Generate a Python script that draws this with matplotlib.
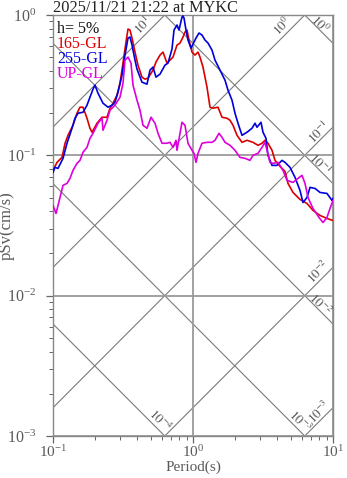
import numpy as np
import matplotlib
matplotlib.use('Agg')
import matplotlib.pyplot as plt
from matplotlib.ticker import LogLocator, LogFormatterSciNotation, NullFormatter

plt.rcParams['font.family'] = 'serif'
plt.rcParams['font.serif'] = ['Liberation Serif', 'DejaVu Serif']
plt.rcParams['mathtext.fontset'] = 'stix'

title = '2025/11/21 21:22 at MYKC'
damping = 'h= 5%'

# 165-GL
t_165 = [0.1, 0.1068, 0.1160, 0.1219, 0.1280, 0.1389, 0.1484, 0.1559, 0.1638, 0.1749,
         0.1837, 0.1900, 0.2062, 0.2239, 0.2430, 0.2553, 0.2638, 0.2865, 0.3010, 0.3162,
         0.3322, 0.3433, 0.3548, 0.3667, 0.3852, 0.4046, 0.4321, 0.4542, 0.4770, 0.5179,
         0.5441, 0.5811, 0.6105, 0.6520, 0.6851, 0.7197, 0.7686, 0.8076, 0.8483, 0.8766,
         0.9061, 0.9363, 0.9837, 1.0335, 1.0857, 1.122, 1.1788, 1.2589, 1.3226, 1.3895,
         1.5086, 1.6112, 1.7496, 1.8378, 1.9307, 2.0621, 2.2387, 2.4301, 2.6827, 2.9125,
         3.1110, 3.2679, 3.4327, 3.6669, 3.8523, 4.1824, 4.5409, 4.7705, 5.1795, 5.8114,
         6.5208, 7.1969, 8.0747, 9.0601, 10.0]
sv_165 = [0.0781, 0.0891, 0.0967, 0.1219, 0.1389, 0.1638, 0.1995, 0.2203, 0.2203, 0.1837,
          0.1559, 0.1460, 0.1693, 0.1868, 0.1868, 0.2166, 0.2276, 0.2683, 0.3268, 0.4542,
          0.6414, 0.7943, 0.7814, 0.6851, 0.5441, 0.4394, 0.3607, 0.3490, 0.3548, 0.4046,
          0.4616, 0.5179, 0.5441, 0.4542, 0.4770, 0.5012, 0.6105, 0.6310, 0.6964, 0.7560,
          0.7814, 0.6629, 0.5441, 0.5179, 0.5441, 0.5012, 0.4252, 0.3060, 0.2203, 0.2166,
          0.2203, 0.1868, 0.1837, 0.1778, 0.1638, 0.1389, 0.1238, 0.1280, 0.1238, 0.1179,
          0.1219, 0.1280, 0.1219, 0.1086, 0.0921, 0.0834, 0.0769, 0.0631, 0.0544, 0.0485,
          0.0454, 0.0405, 0.0373, 0.0355, 0.0343]

# 255-GL
t_255 = [0.1, 0.1033, 0.1086, 0.1179, 0.1259, 0.1367, 0.1436, 0.1509, 0.1638, 0.1749,
         0.1837, 0.1931, 0.1995, 0.2096, 0.2276, 0.2471, 0.2638, 0.2772, 0.2912, 0.3111,
         0.3268, 0.3433, 0.3548, 0.3667, 0.3852, 0.3981, 0.4321, 0.4692, 0.4930, 0.5179,
         0.5441, 0.5811, 0.6310, 0.6629, 0.7079, 0.7317, 0.7686, 0.7943, 0.8347, 0.8483,
         0.8623, 0.8913, 0.9211, 0.9676, 1.0, 1.0506, 1.1037, 1.1596, 1.2182, 1.2798,
         1.3669, 1.4360, 1.5590, 1.6927, 1.7783, 1.8993, 1.9953, 2.0962, 2.2387, 2.4301,
         2.6383, 2.7725, 2.8651, 3.0596, 3.1623, 3.3218, 3.4327, 3.6669, 3.9811, 4.3222,
         4.5409, 4.9307, 5.3549, 5.8114, 6.1054, 6.5208, 6.8504, 7.4372, 8.0747, 9.0601,
         9.8378, 10.0]
sv_255 = [0.0756, 0.0821, 0.0807, 0.0952, 0.1219, 0.1559, 0.1837, 0.1995, 0.2028, 0.2276,
          0.2596, 0.2961, 0.3162, 0.2772, 0.2352, 0.2203, 0.2276, 0.2391, 0.2818, 0.3728,
          0.5179, 0.6851, 0.6964, 0.6105, 0.4770, 0.4115, 0.3322, 0.3214, 0.4046, 0.4252,
          0.3607, 0.3790, 0.4394, 0.4542, 0.5717, 0.7814, 0.8483, 0.7814, 0.9676, 0.9837,
          0.9519, 0.7814, 0.6629, 0.5811, 0.6207, 0.6851, 0.7436, 0.7197, 0.6629, 0.6310,
          0.5623, 0.4770, 0.4046, 0.3433, 0.2912, 0.2471, 0.1995, 0.1693, 0.1389, 0.1460,
          0.1559, 0.1693, 0.1585, 0.1720, 0.1460, 0.1322, 0.1000, 0.0848, 0.0848, 0.0921,
          0.0891, 0.0821, 0.0696, 0.0562, 0.0461, 0.0501, 0.0591, 0.0581, 0.0544, 0.0535,
          0.0477, 0.0493]

# UP-GL
t_up = [0.1, 0.1051, 0.1122, 0.1179, 0.1259, 0.1322, 0.1389, 0.1484, 0.1559, 0.1638,
        0.1749, 0.1837, 0.1931, 0.2096, 0.2239, 0.2276, 0.2430, 0.2553, 0.2772, 0.3010,
        0.3162, 0.3268, 0.3433, 0.3607, 0.3728, 0.3981, 0.4181, 0.4394, 0.4692, 0.5012,
        0.5353, 0.5623, 0.6006, 0.6520, 0.6851, 0.7197, 0.7560, 0.7686, 0.8076, 0.8347,
        0.8766, 0.9211, 0.9837, 1.0166, 1.0506, 1.0857, 1.1596, 1.2589, 1.3669, 1.4360,
        1.5336, 1.6112, 1.6927, 1.8378, 1.9953, 2.1664, 2.3515, 2.5529, 2.6827, 2.9125,
        3.1110, 3.2679, 3.3767, 3.5481, 3.7276, 4.0469, 4.3939, 4.6929, 5.1795, 5.6234,
        6.0060, 6.3096, 6.6292, 7.1969, 7.9433, 8.4834, 9.0601, 9.5185, 10.0]
sv_up = [0.0439, 0.0385, 0.0501, 0.0611, 0.0631, 0.0685, 0.0781, 0.0877, 0.0921, 0.1051,
         0.1140, 0.1322, 0.1436, 0.1693, 0.1837, 0.1509, 0.1778, 0.2096, 0.2276, 0.2596,
         0.3268, 0.4770, 0.5012, 0.4542, 0.3162, 0.2471, 0.2096, 0.1638, 0.1559, 0.1868,
         0.1693, 0.1436, 0.1219, 0.1219, 0.1238, 0.1140, 0.1280, 0.1086, 0.1436, 0.1720,
         0.1638, 0.1219, 0.1086, 0.1033, 0.0891, 0.1033, 0.1219, 0.1238, 0.1238, 0.1280,
         0.1436, 0.1344, 0.1238, 0.1179, 0.1086, 0.0967, 0.0952, 0.0921, 0.1000, 0.1033,
         0.1140, 0.1238, 0.1086, 0.0891, 0.0877, 0.0891, 0.0781, 0.0663, 0.0641, 0.0685,
         0.0720, 0.0631, 0.0501, 0.0418, 0.0361, 0.0332, 0.0361, 0.0418, 0.0477]

series = [('165-GL', t_165, sv_165, '#dd0000'),
          ('255-GL', t_255, sv_255, '#0000dd'),
          ('UP-GL', t_up, sv_up, '#dd00dd')]

# tripartite guide lines: constant acceleration and constant displacement
acc_levels = [-3, -2, -1, 0, 1]
disp_levels = [-4, -3, -2, -1, 0]

t_min, t_max = 0.1, 10.0
sv_min, sv_max = 1e-3, 1.0

fig = plt.figure(figsize=(3.47, 4.78), dpi=100)
ax = fig.add_axes([53 / 347, 1 - 436 / 478, 280 / 347, 421 / 478])
ax.set_xscale('log')
ax.set_yscale('log')
ax.set_xlim(t_min, t_max)
ax.set_ylim(sv_min, sv_max)

guide = '#7a7a7a'
tt = np.array([t_min, t_max])
w = 2 * np.pi
for n in acc_levels:
    sa = 10.0 ** n
    ax.plot(tt, sa * tt / w, color=guide, lw=0.8, zorder=1)
    sv_end = sa * t_max / w
    if sv_end <= sv_max:
        end, off = (t_max, sv_end), (-14, -5)
    else:
        end, off = (w * sv_max / sa, sv_max), (-22, -11)
    ax.annotate(f'$10^{{{n}}}$', xy=end, xytext=off, textcoords='offset pixels',
                ha='center', va='center', rotation=45, fontsize=9.5, color='#555555')
for n in disp_levels:
    sd = 10.0 ** n
    ax.plot(tt, w * sd / tt, color=guide, lw=0.8, zorder=1)
    sv_end = w * sd / t_max
    if sv_end >= sv_min:
        end, off = (t_max, sv_end), (-13, 19)
    else:
        end, off = (w * sd / sv_min, sv_min), (-5, 15)
    ax.annotate(f'$10^{{{n}}}$', xy=end, xytext=off, textcoords='offset pixels',
                ha='center', va='center', rotation=-45, fontsize=9.5, color='#555555')

ax.grid(True, which='major', color='#9a9a9a', lw=1.3, zorder=1)

for name, t, sv, c in series:
    ax.plot(t, sv, color=c, lw=1.2, zorder=3)

step = 15 / 421
ax.text(0.014, 0.957, damping, transform=ax.transAxes, fontsize=11.5, color='#111111')
for i, (name, t, sv, c) in enumerate(series):
    ax.text(0.014, 0.957 - step * (i + 1), name, transform=ax.transAxes,
            fontsize=11.5, color=c)

ax.xaxis.set_major_locator(LogLocator(base=10, numticks=10))
ax.yaxis.set_major_locator(LogLocator(base=10, numticks=10))
ax.xaxis.set_minor_locator(LogLocator(base=10, subs=np.arange(2, 10), numticks=10))
ax.yaxis.set_minor_locator(LogLocator(base=10, subs=np.arange(2, 10), numticks=10))
ax.xaxis.set_major_formatter(LogFormatterSciNotation())
ax.yaxis.set_major_formatter(LogFormatterSciNotation())
ax.xaxis.set_minor_formatter(NullFormatter())
ax.yaxis.set_minor_formatter(NullFormatter())
ax.tick_params(which='both', direction='out', colors='#666666', labelcolor='#5a5a5a',
               labelsize=11.5, top=False, right=False)
ax.tick_params(which='major', length=5, width=0.9)
ax.tick_params(which='minor', length=3, width=0.7)
ax.tick_params(axis='y', pad=7)
ax.tick_params(axis='x', pad=1, labelsize=11)
for s in ax.spines.values():
    s.set_color('#888888')
    s.set_linewidth(1.0)

ax.set_xlabel('Period(s)', fontsize=11, color='#5a5a5a')
ax.set_ylabel('pSv(cm/s)', fontsize=12, color='#5a5a5a')
ax.xaxis.set_label_coords(0.5, -0.058)
ax.yaxis.set_label_coords(-0.136, 0.5)
fig.text(53 / 347, 1 - 11.5 / 478, title, fontsize=11.8, color='#222222',
         ha='left', va='baseline')

fig.savefig('out.png', dpi=100)
